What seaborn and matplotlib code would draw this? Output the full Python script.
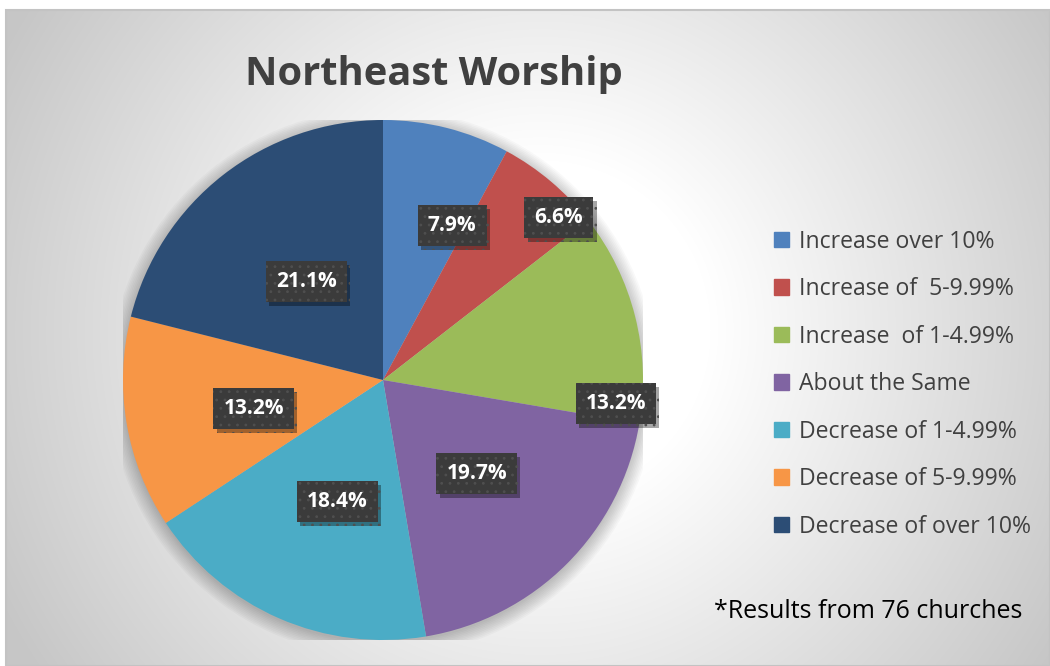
import numpy as np
import matplotlib
matplotlib.use("Agg")
import matplotlib.pyplot as plt
import matplotlib.patheffects as pe
import seaborn as sns
from matplotlib.patches import Rectangle, Circle

# data (share of 76 churches)
categories = ["Increase over 10%", "Increase of  5-9.99%", "Increase  of 1-4.99%",
              "About the Same", "Decrease of 1-4.99%", "Decrease of 5-9.99%",
              "Decrease of over 10%"]
shares = [7.9, 6.6, 13.2, 19.7, 18.4, 13.2, 21.1]
slice_colors = ["#4F81BD", "#C0504D", "#9BBB59", "#8064A2", "#4BACC6", "#F79646", "#2C4D75"]

# label placement (fraction of radius, angle nudge in degrees) - Excel "best fit" look
label_dist = [0.65, 0.92, 0.90, 0.51, 0.50, 0.51, 0.48]
label_nudge = [-10, -7, -20, 0, 3, 3, 0]

sns.set_theme(style="white")
plt.rcParams["font.family"] = ["Open Sans", "DejaVu Sans"]
plt.rcParams["hatch.linewidth"] = 0.8

W, H = 1050, 666
fig = plt.figure(figsize=(W / 100, H / 100), dpi=100)
fig.patch.set_facecolor("white")

# chart area background with radial gradient
x0 = 6 / W
bg = fig.add_axes([x0, 0, 1 - x0, 1 - 10 / H])
bg.set_axis_off()
yy, xx = np.mgrid[10:666, 6:1050]
d = np.hypot(xx - 540, yy - 330)
g = 1.0 - np.clip((d - 170) / 440, 0, 1) * (255 - 198) / 255
bg.imshow(np.dstack([g, g, g]), extent=[0, 1, 0, 1], aspect="auto")
fig.patches.append(Rectangle((x0, 0), 1 - x0, 1 - 10 / H, transform=fig.transFigure,
                             fill=False, edgecolor="#c3c3c3", linewidth=1.5, zorder=5))

# pie axes: center (383, 380), radius ~260 px
R = 260
cx, cy = 383, 380
ax = fig.add_axes([(cx - R) / W, (H - cy - R) / H, 2 * R / W, 2 * R / H])
ax.set_axis_off()

# soft shadow
for k in range(10):
    ax.add_patch(Circle((0.0, -0.01), 1.0 + 0.006 * k, color="black",
                        alpha=0.025, zorder=0, lw=0))

wedges, _ = ax.pie(shares, colors=sns.color_palette(slice_colors), startangle=90,
                   counterclock=False, radius=1.0,
                   wedgeprops=dict(linewidth=0, zorder=2))
ax.set_xlim(-1, 1)
ax.set_ylim(-1, 1)
ax.set_aspect("equal")

for w, val, dist, nud in zip(wedges, shares, label_dist, label_nudge):
    ang = np.deg2rad((w.theta1 + w.theta2) / 2 + nud)
    tx, ty = dist * np.cos(ang), dist * np.sin(ang)
    t = ax.text(tx, ty, f"{val}%", ha="center", va="center", fontsize=15,
                fontweight="bold", color="white", zorder=4,
                bbox=dict(boxstyle="square,pad=0.48", fc="#3b3b3b", ec="#4f4f4f",
                          lw=0, hatch=".."))
    t.get_bbox_patch().set_path_effects(
        [pe.SimplePatchShadow(offset=(2.5, -2.5), alpha=0.35, shadow_rgbFace="black"),
         pe.Normal()])

# title
fig.text(434 / W, 1 - 75 / H, "Northeast Worship", ha="center", va="center",
         fontsize=28.7, fontweight="bold", color="#404040")

# legend
handles = [Rectangle((0, 0), 1, 1, color=c) for c in slice_colors]
leg = fig.legend(handles, categories, loc="upper left",
                 bbox_to_anchor=(762 / W, 1 - 218 / H), frameon=False,
                 fontsize=16.6, handlelength=0.68, handleheight=0.68,
                 handletextpad=0.42, labelspacing=1.02, borderpad=0)
for t in leg.get_texts():
    t.set_color("#404040")

# footnote
fig.text(714 / W, 1 - 612 / H, "*Results from 76 churches", ha="left", va="center",
         fontsize=18, color="black")

fig.savefig("out.png", dpi=100)
